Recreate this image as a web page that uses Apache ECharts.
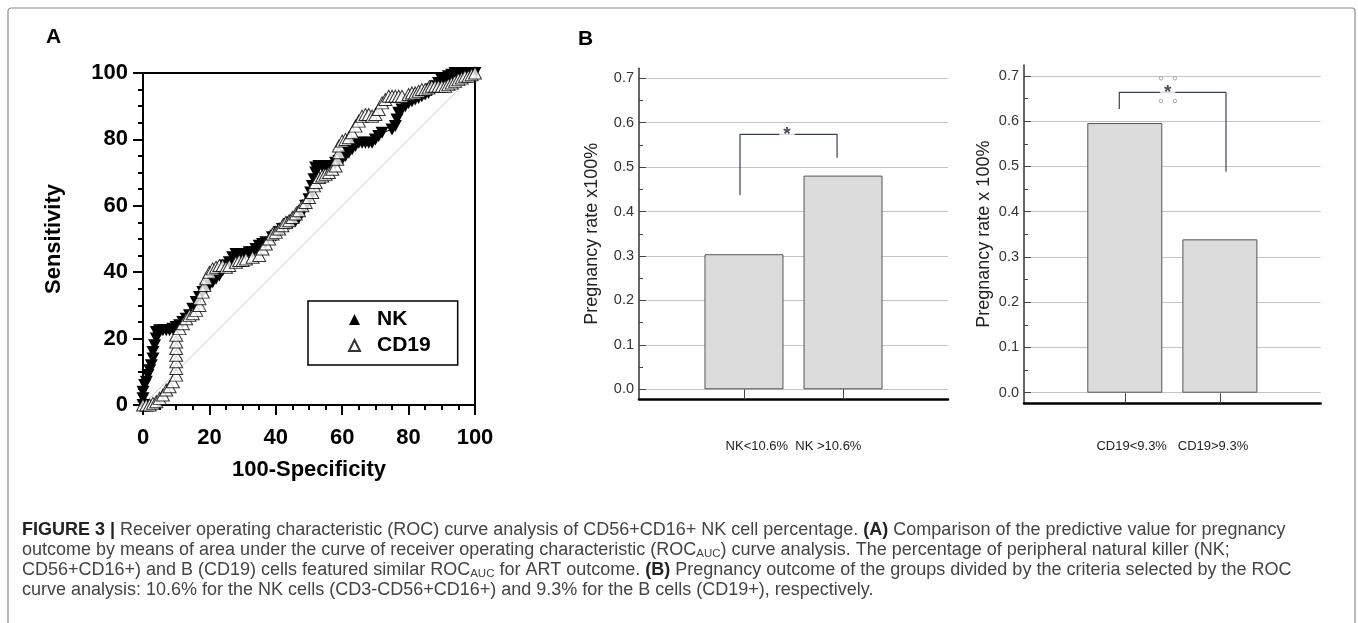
<!DOCTYPE html>
<html><head><meta charset="utf-8">
<script src="https://cdn.jsdelivr.net/npm/echarts@6/dist/echarts.min.js"></script>
<style>html,body{margin:0;padding:0;background:#fff}#c{width:1358px;height:623px}</style>
</head><body><div id="c"></div>
<script>
// ---------- Panel A: ROC curves ----------
const rocTicks = [0, 20, 40, 60, 80, 100];
const nkRoc = [
[0,0],[0,2],[0,4],[0.5,6],[1,7],[1.5,9],[2,10.5],[2.5,12],[3,14],[3,16],[3.5,18],[4,20],[4,22],[5,22.5],[6,22.5],[7,22.5],[8,22.5],[9,23],[10,23.5],[11,24],[12,25],[13,26],[14,27],[15,29],[16,31],[17,32.5],[18,34],[19,35],[20,36],[21,37],[22,38],[23,39],[24,40.5],[25,42],[26,43],[27,44.5],[28,45.5],[29,45.5],[30,45.5],[31,45.5],[32,46],[33,46],[34,47],[35,48],[36,48.5],[37,49],[39,50.5],[40,51],[41,52],[42,53],[44,54.5],[45,55],[46,55.5],[47,56.5],[48,58],[49,60],[50,62],[50.5,64],[51,66],[51.5,68],[52,70],[52,71.5],[53,72],[54,72],[55,72],[56,72],[57,72],[58,73],[59,73.5],[60,74],[61,75],[62,76],[63,77],[64,78],[65,79],[66,79],[67,79],[68,79],[69,79],[70,80],[71,81],[72,82],[75,83],[76,84],[76.5,86],[77,88],[78,89],[79,90],[80,91],[81,91.5],[82,92],[83,92.5],[84,93],[85,93.5],[86,94],[87,95],[88,96],[89,97],[90,98],[91,98.5],[92,99],[93,99.5],[94,100],[96,100],[98,100],[100,100]
];
const cd19Roc = [
[0,0],[1,0],[2,0],[3,0.5],[4,1],[5,2],[6,3],[7,4.5],[8,5.5],[9,7],[10,9],[10,11],[10,13],[10,15],[10,17],[10,19],[10,21],[11,23],[12,24.5],[13,26],[14,27],[15,27.5],[16,28.5],[17,30],[17,32],[18,34],[18.5,36],[19,38],[20,40],[21,41],[22,41.5],[23,42],[24,42],[25,41.5],[26,42],[28,43],[29,43.5],[30,43.5],[31,44],[33,44.5],[35,45],[36,47],[37,48.5],[38,50],[39,51.5],[40,52],[41,53],[42,54],[43,55],[44,55.5],[45,56.5],[46,57.5],[47,58.5],[48,60],[49,61],[50,62.5],[51,64],[51.5,66],[52,67],[53,68.5],[54,69],[55,69.5],[56,70],[57,71],[58,72],[58.5,74],[59,76],[59,78],[60,79.5],[61,80],[62,80.5],[63,82],[64,84],[65,85.5],[66,87],[67,87.5],[68,87.5],[69,87],[70,87.5],[71,89],[72,91],[73,92],[74,93],[75,93],[76,93],[77,93],[78,93],[80,93.5],[81,94],[82,94],[83,94.5],[84,95],[85,95],[86,95.5],[87,96],[88,96],[89,96],[90,96],[91,96],[92,96.5],[93,97],[94,97.5],[95,98],[96,98.5],[97,99],[98,99],[99,99.5],[100,100]
];
const chanceLine = [[0,0],[100,100]];

// ---------- Panel B: pregnancy rates ----------
const nkCategories = ['NK<10.6%', 'NK >10.6%'];
const nkRates = [0.304, 0.481];
const cd19Categories = ['CD19<9.3%', 'CD19>9.3%'];
const cd19Rates = [0.596, 0.339];
const rateTicks = [0, 0.1, 0.2, 0.3, 0.4, 0.5, 0.6, 0.7];
const rateMinorTicks = [0.05, 0.15, 0.25, 0.35, 0.45, 0.55, 0.65];
const barPositions = [1, 2];
const nkBracket = [[0.96,0.437],[0.96,0.574],[1.94,0.574],[1.94,0.521]];
const nkStar = [[1.435,0.574]];
const cd19Bracket = [[0.942,0.627],[0.942,0.664],[2.064,0.664],[2.064,0.4885]];
const cd19Star = [[1.45,0.664]];
const cd19Handles = [[1.38,0.695],[1.528,0.695],[1.38,0.645],[1.528,0.645]];

const SANS = "'Liberation Sans', Arial, Helvetica, sans-serif";
const NARROW = "'Liberation Sans Narrow', 'Arial Narrow', 'Liberation Sans', sans-serif";

const chart = echarts.init(document.getElementById('c'), null, {renderer: 'canvas'});

const boldA = {fontFamily: SANS, fontWeight: 'bold', fontSize: 22, color: '#000'};

function rateYAxes(grid, min, max, name, nameGap) {
  return [{
    gridIndex: grid, type: 'value', position: 'left', min: min, max: max,
    axisLine: {show: true, onZero: false, lineStyle: {color: '#333', width: 1.5}},
    axisTick: {show: true, inside: true, length: 7, customValues: rateTicks, lineStyle: {color: '#444', width: 1}},
    axisLabel: {show: true, customValues: rateTicks, formatter: v => v.toFixed(1), margin: 5, fontSize: 14.5, fontFamily: SANS, color: '#333'},
    splitLine: {show: true, lineStyle: {color: '#c4c4c4', width: 1}},
    name: name, nameLocation: 'middle', nameGap: nameGap,
    nameTextStyle: {fontSize: 18, fontFamily: SANS, color: '#222'}
  }, {
    gridIndex: grid, type: 'value', position: 'left', min: min, max: max,
    axisLine: {show: false, onZero: false},
    axisTick: {show: true, inside: true, length: 4, customValues: rateMinorTicks, lineStyle: {color: '#444', width: 1}},
    axisLabel: {show: false},
    splitLine: {show: false}
  }];
}
function rateXAxis(grid, cats, sep, nameGap) {
  return {
    gridIndex: grid, type: 'value', min: -0.06, max: 3.06,
    axisLine: {show: true, onZero: false, lineStyle: {color: '#000', width: 2.5}},
    axisTick: {show: true, inside: true, length: 10, customValues: barPositions, lineStyle: {color: '#444', width: 1}},
    axisLabel: {show: false},
    splitLine: {show: false},
    name: cats.join(sep),
    nameLocation: 'middle', nameGap: nameGap,
    nameTextStyle: {fontSize: 13, fontFamily: NARROW, color: '#222'}
  };
}
function bracketSeries(xi, yi, pts, star, extra) {
  const s = [{
    type: 'line', xAxisIndex: xi, yAxisIndex: yi, data: pts, symbol: 'none', silent: true, z: 5,
    lineStyle: {color: '#3b3f52', width: 1.2}
  }, {
    type: 'scatter', xAxisIndex: xi, yAxisIndex: yi, data: star, symbolSize: 0, silent: true, z: 6,
    label: {show: true, position: 'inside', formatter: '*', fontSize: 19, fontWeight: 'bold', fontFamily: SANS,
      color: '#222', backgroundColor: '#fff', padding: [1, 4, 0, 4]}
  }];
  if (extra) s.push({
    type: 'scatter', xAxisIndex: xi, yAxisIndex: yi, data: extra, symbol: 'circle', symbolSize: 3.5, silent: true, z: 7,
    itemStyle: {color: '#fff', borderColor: '#9a9a9a', borderWidth: 1}
  });
  return s;
}

const caption = [
  '{b|FIGURE 3 |} Receiver operating characteristic (ROC) curve analysis of CD56+CD16+ NK cell percentage. {b|(A)} Comparison of the predictive value for pregnancy',
  'outcome by means of area under the curve of receiver operating characteristic (ROC{s|AUC}) curve analysis. The percentage of peripheral natural killer (NK;',
  'CD56+CD16+) and B (CD19) cells featured similar ROC{s|AUC} for ART outcome. {b|(B)} Pregnancy outcome of the groups divided by the criteria selected by the ROC',
  'curve analysis: 10.6% for the NK cells (CD3-CD56+CD16+) and 9.3% for the B cells (CD19+), respectively.'
];

const option = {
  animation: false,
  backgroundColor: '#fff',
  grid: [
    {left: 143, top: 73, width: 332, height: 332, show: true, borderColor: '#000', borderWidth: 2, outerBoundsMode: 'none'},
    {left: 639, top: 68.3, width: 309, height: 331, outerBoundsMode: 'none'},
    {left: 1024, top: 65, width: 296.7, height: 338.3, outerBoundsMode: 'none'}
  ],
  xAxis: [
    {
      gridIndex: 0, type: 'value', min: 0, max: 100, interval: 20,
      axisLine: {show: true, onZero: false, lineStyle: {color: '#000', width: 2}},
      axisTick: {show: true, length: 10, lineStyle: {color: '#000', width: 2}},
      minorTick: {show: true, splitNumber: 4, length: 5, lineStyle: {color: '#000', width: 2}},
      axisLabel: Object.assign({margin: 22}, boldA),
      splitLine: {show: false},
      name: '100-Specificity', nameLocation: 'middle', nameGap: 54,
      nameTextStyle: boldA
    },
    rateXAxis(1, nkCategories, '  ', 41),
    rateXAxis(2, cd19Categories, '   ', 37)
  ],
  yAxis: [
    {
      gridIndex: 0, type: 'value', min: 0, max: 100, interval: 20, position: 'left',
      axisLine: {show: true, onZero: false, lineStyle: {color: '#000', width: 2}},
      axisTick: {show: true, length: 10, lineStyle: {color: '#000', width: 2}},
      minorTick: {show: true, splitNumber: 4, length: 5, lineStyle: {color: '#000', width: 2}},
      axisLabel: Object.assign({margin: 15}, boldA),
      splitLine: {show: false},
      name: 'Sensitivity', nameLocation: 'middle', nameGap: 78,
      nameTextStyle: boldA
    },
    ...rateYAxes(1, -0.0225, 0.7225, 'Pregnancy rate x100%', 38),
    ...rateYAxes(2, -0.0234, 0.7243, 'Pregnancy rate x 100%', 31)
  ],
  legend: {
    left: 308, top: 301, orient: 'vertical', selectedMode: false,
    data: [{name: 'NK', icon: 'triangle'}, {name: 'CD19', icon: 'triangle'}],
    itemWidth: 11, itemHeight: 11, itemGap: 5,
    borderColor: '#000', borderWidth: 1.5, borderRadius: 0,
    padding: [8, 27, 9, 40],
    textStyle: {fontSize: 21, fontWeight: 'bold', fontFamily: SANS, color: '#000', padding: [0, 0, 0, 12]}
  },
  series: [
    {
      name: 'chance', type: 'line', xAxisIndex: 0, yAxisIndex: 0, data: chanceLine,
      symbol: 'none', silent: true, z: 1, lineStyle: {color: '#cfcfcf', width: 1}
    },
    {
      name: 'NK', type: 'line', xAxisIndex: 0, yAxisIndex: 0, data: nkRoc,
      symbol: 'path://M0,0 L10,0 L5,10 Z', symbolSize: [13, 12], showAllSymbol: true, z: 3,
      itemStyle: {color: '#000'}, lineStyle: {color: '#000', width: 1}
    },
    {
      name: 'CD19', type: 'scatter', xAxisIndex: 0, yAxisIndex: 0, data: cd19Roc,
      symbol: 'triangle', symbolSize: [13, 12], z: 4,
      itemStyle: {color: '#fff', borderColor: '#000', borderWidth: 1}
    },
    {
      name: 'nkBars', type: 'bar', xAxisIndex: 1, yAxisIndex: 1,
      data: nkRates.map((v, i) => [barPositions[i], v]), barWidth: 79,
      itemStyle: {color: '#dcdcdc', borderColor: '#555', borderWidth: 1}
    },
    ...bracketSeries(1, 1, nkBracket, nkStar, null),
    {
      name: 'cd19Bars', type: 'bar', xAxisIndex: 2, yAxisIndex: 3,
      data: cd19Rates.map((v, i) => [barPositions[i], v]), barWidth: 75,
      itemStyle: {color: '#dcdcdc', borderColor: '#555', borderWidth: 1}
    },
    ...bracketSeries(2, 3, cd19Bracket, cd19Star, cd19Handles)
  ],
  graphic: [
    {type: 'rect', silent: true, z: -10, shape: {x: 8, y: 8, width: 1347, height: 700, r: 3},
     style: {fill: 'none', stroke: '#8a8a8a', lineWidth: 1.2}},
    {type: 'text', left: 46, top: 27, style: {text: 'A', fontSize: 21, fontWeight: 'bold', fontFamily: SANS, fill: '#000'}},
    {type: 'text', left: 578, top: 29, style: {text: 'B', fontSize: 21, fontWeight: 'bold', fontFamily: SANS, fill: '#000'}},
    {type: 'text', left: 22, top: 520, style: {
      text: caption.join('\n'), fontSize: 18, fontFamily: SANS, fill: '#444', lineHeight: 20,
      rich: {
        b: {fontSize: 18, fontFamily: SANS, fontWeight: 'bold', fill: '#222', lineHeight: 20},
        s: {fontSize: 11.5, fontFamily: SANS, fill: '#444', lineHeight: 20, verticalAlign: 'bottom'}
      }
    }}
  ]
};
chart.setOption(option);
</script>
</body></html>
